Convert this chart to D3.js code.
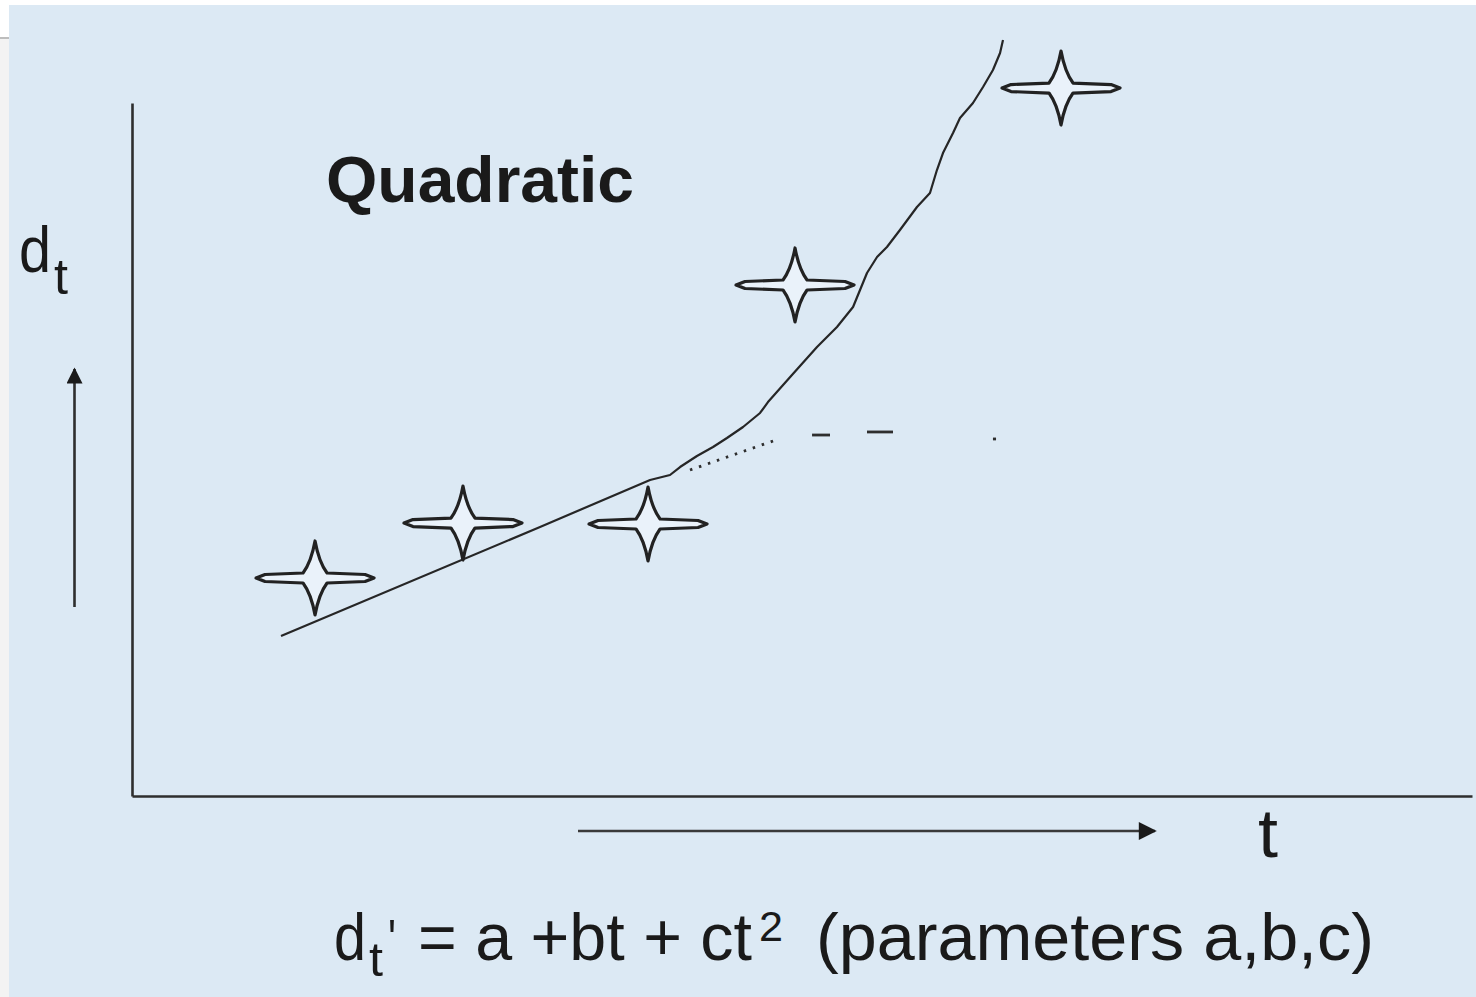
<!DOCTYPE html>
<html>
<head>
<meta charset="utf-8">
<script src="https://cdn.jsdelivr.net/npm/d3@7"></script>
<style>
  html, body { margin: 0; padding: 0; background: #ffffff; }
  svg { display: block; }
  text { font-family: "Liberation Sans", Arial, sans-serif; fill: #1a1a1a; }
</style>
</head>
<body>
<svg id="chart" width="1476" height="997"></svg>
<script>
// Observations d_t at times t
const obsT = [13.66, 24.70, 38.51, 49.48, 69.33];
const obsD = [31.46, 39.39, 39.25, 73.74, 102.16];

// Fitted quadratic trend d_t' (hand-drawn, slightly irregular)
const fitT = [11.12, 30.45, 38.66, 40.15, 40.90, 42.16, 43.36, 44.40, 45.60, 46.87,
              47.46, 49.25, 51.12, 52.61, 53.81, 54.33, 54.85, 55.60, 56.34, 57.31,
              58.58, 59.55, 60.07, 60.52, 61.27, 61.79, 62.76, 63.51, 64.25, 64.78, 65.00];
const fitD = [23.09, 38.82, 45.60, 46.32, 47.47, 49.06, 50.36, 51.66, 53.25, 55.27,
              56.85, 60.75, 64.79, 67.68, 70.56, 73.02, 75.47, 77.78, 79.22, 81.67,
              84.99, 87.01, 90.33, 92.78, 95.67, 97.84, 100.00, 102.31, 104.76, 107.22, 109.09];

// Linear continuation (faded dotted / dashed tail)
const tailStartT = [41.64, 50.75, 54.85, 64.25];
const tailStartD = [47.04, 52.09, 52.53, 51.52];
const tailEndT   = [47.84, 52.09, 56.79, 64.48];
const tailEndD   = [51.23, 52.09, 52.53, 51.52];
const tailDash   = ["2.5,7", null, null, null];

// Axis domains
const tDomain = [0, 100];
const dDomain = [0, 100];

const svg = d3.select("#chart");

// Page frame: grey margin on the left, light blue panel
svg.append("rect").attr("x", 0).attr("y", 0).attr("width", 1476).attr("height", 997).attr("fill", "#ffffff");
svg.append("rect").attr("x", 0).attr("y", 38).attr("width", 9).attr("height", 959).attr("fill", "#f3f3f3");
svg.append("rect").attr("x", 0).attr("y", 37).attr("width", 9).attr("height", 2).attr("fill", "#bdbdbd");
svg.append("rect").attr("x", 9).attr("y", 5).attr("width", 1467).attr("height", 992).attr("fill", "#dce9f4");

const x = d3.scaleLinear().domain(tDomain).range([132, 1472]);
const y = d3.scaleLinear().domain(dDomain).range([796, 103]);

// Axes drawn as bare lines (no ticks)
const axisStyle = g => {
  g.select(".domain").attr("stroke", "#2e2e2e").attr("stroke-width", 2.6);
  g.selectAll(".tick").remove();
};
svg.append("g").attr("transform", `translate(${x(0)},0)`)
  .call(d3.axisLeft(y).tickValues([]).tickSizeOuter(0)).call(axisStyle);
svg.append("g").attr("transform", `translate(0,${y(0)})`)
  .call(d3.axisBottom(x).tickValues([]).tickSizeOuter(0)).call(axisStyle);

// Direction arrows
const defs = svg.append("defs");
defs.append("marker").attr("id", "head").attr("viewBox", "0 0 10 10")
  .attr("refX", 9).attr("refY", 5).attr("markerUnits", "userSpaceOnUse")
  .attr("markerWidth", 26).attr("markerHeight", 18).attr("orient", "auto")
  .append("path").attr("d", "M0,0 L10,5 L0,10 Z").attr("fill", "#1a1a1a");
defs.append("marker").attr("id", "headV").attr("viewBox", "0 0 10 10")
  .attr("refX", 9).attr("refY", 5).attr("markerUnits", "userSpaceOnUse")
  .attr("markerWidth", 22).attr("markerHeight", 16).attr("orient", "auto")
  .append("path").attr("d", "M0,0 L10,5 L0,10 Z").attr("fill", "#1a1a1a");

svg.append("line").attr("x1", 74.5).attr("y1", 607).attr("x2", 74.5).attr("y2", 369)
  .attr("stroke", "#2e2e2e").attr("stroke-width", 2.6).attr("marker-end", "url(#headV)");
svg.append("line").attr("x1", 578).attr("y1", 831).attr("x2", 1155).attr("y2", 831)
  .attr("stroke", "#3a3a3a").attr("stroke-width", 2.6).attr("marker-end", "url(#head)");

// Fitted curve
const fitPts = fitT.map((t, i) => [t, fitD[i]]);
svg.append("path").datum(fitPts)
  .attr("d", d3.line().x(p => x(p[0])).y(p => y(p[1])))
  .attr("fill", "none").attr("stroke", "#262626").attr("stroke-width", 2.2)
  .attr("stroke-linejoin", "round");

// Linear tail
svg.selectAll("line.tail").data(tailStartT).join("line").attr("class", "tail")
  .attr("x1", (t, i) => x(t)).attr("y1", (t, i) => y(tailStartD[i]))
  .attr("x2", (t, i) => x(tailEndT[i])).attr("y2", (t, i) => y(tailEndD[i]))
  .attr("stroke", "#2e2e2e").attr("stroke-width", 2.8)
  .attr("stroke-dasharray", (t, i) => tailDash[i]);

// Four-pointed star markers: lens-shaped vertical spikes, long flat horizontal bars
const starPath = [
  "M0,-37",
  "C2,-26 6,-13 12,-5", "L50,-3.5", "L59,0",
  "L50,3.5", "L12,5", "C6,13 2,26 0,37",
  "C-2,26 -6,13 -12,5", "L-50,3.5", "L-59,0",
  "L-50,-3.5", "L-12,-5", "C-6,-13 -2,-26 0,-37", "Z"
].join(" ");
svg.selectAll("path.obs").data(obsT).join("path").attr("class", "obs")
  .attr("transform", (t, i) => `translate(${x(t)},${y(obsD[i])})`)
  .attr("d", starPath)
  .attr("fill", "#eaf2fa").attr("stroke", "#222222").attr("stroke-width", 3.2)
  .attr("stroke-linejoin", "round");

// Labels
function label(txt, px, py, size, len, weight) {
  const el = svg.append("text").attr("x", px).attr("y", py)
    .attr("font-size", size).attr("font-weight", weight || "normal").text(txt);
  if (len) el.attr("textLength", len).attr("lengthAdjust", "spacingAndGlyphs");
  return el;
}

label("Quadratic", 326, 202, 64, 308, "bold");

// y-axis label d_t
label("d", 19, 272, 64, 32);
label("t", 54, 294, 50, 14);

// x-axis label t
label("t", 1258, 857, 68, 20);

// Formula
label("d", 334, 960, 66, 32);
label("t", 369, 976, 48, 14);
label("'", 388, 958, 56, 8);
label("= a +bt + ct", 418, 960, 66, 334);
label("2", 759, 941, 42, 24);
label("(parameters a,b,c)", 816, 960, 66, 558);
</script>
</body>
</html>
